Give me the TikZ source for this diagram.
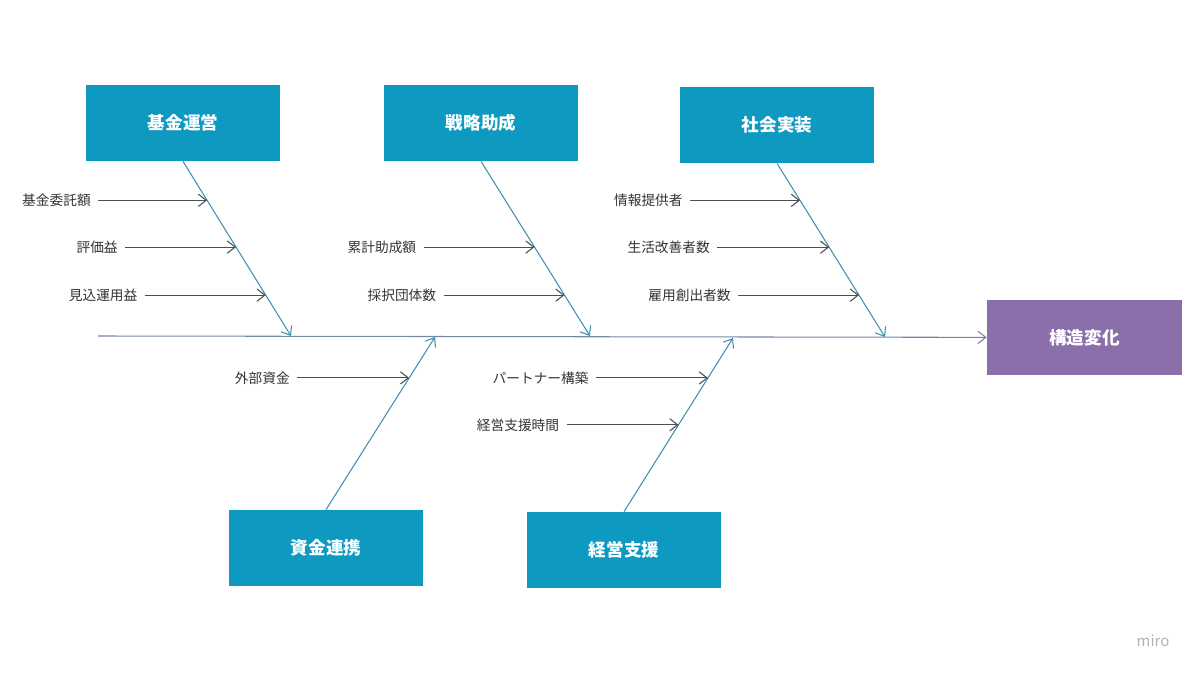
\documentclass[tikz,border=0pt]{standalone}
\usepackage{fontspec}
\setmainfont{Noto Sans CJK JP}
\usetikzlibrary{positioning,arrows,arrows.meta,calc}

\definecolor{boxteal}{HTML}{0E9AC0}
\definecolor{effpurple}{HTML}{8A6FAB}
\definecolor{bonecol}{HTML}{3F8FAE}
\definecolor{spinecol}{HTML}{7486A6}
\definecolor{causecol}{HTML}{46505A}

\begin{document}
\begin{tikzpicture}[x=0.02cm,y=-0.02cm,
  >={Straight Barb[length=4.5pt,width=7pt]},
  box/.style={fill=boxteal, text=white, font=\fontsize{10}{12}\selectfont\bfseries,
    minimum width=3.9cm, minimum height=1.52cm, inner sep=0pt},
  effect/.style={box, fill=effpurple},
  cause/.style={font=\fontsize{7.8}{9}\selectfont, text=black!80, inner sep=4pt},
  bone/.style={->, bonecol, line width=0.6pt},
  spine/.style={->, spinecol, line width=0.6pt},
  link/.style={->, causecol, line width=0.6pt}]

  \useasboundingbox (0,0) rectangle (1200,675);

  % main boxes
  \node[box] (p1) at (183,123) {基金運営};
  \node[box] (p2) at (481,123) {戦略助成};
  \node[box] (p3) at (777,125) {社会実装};
  \node[box] (p4) at (326,548) {資金連携};
  \node[box] (p5) at (624,550) {経営支援};
  \node[effect] (p6) at (1084.5,337.5) {構造変化};

  % spine
  \coordinate (s0) at (98,336);
  \coordinate (s1) at (291,336);
  \coordinate (s2) at (590,336);
  \coordinate (s3) at (885,337);
  \coordinate (s4) at (435,337);
  \coordinate (s5) at (733,338);
  \path[spine] (s0) edge (p6);

  % bones
  \path[bone] (p1.south) edge (s1);
  \path[bone] (p2.south) edge (s2);
  \path[bone] (p3.south) edge (s3);
  \path[bone] (p4.north) edge (s4);
  \path[bone] (p5.north) edge (s5);

  % points on the bones
  \coordinate (c11) at ($(p1.south)!0.223!(s1)$);
  \coordinate (c12) at ($(p1.south)!0.491!(s1)$);
  \coordinate (c13) at ($(p1.south)!0.766!(s1)$);
  \coordinate (c21) at ($(p2.south)!0.491!(s2)$);
  \coordinate (c22) at ($(p2.south)!0.766!(s2)$);
  \coordinate (c31) at ($(p3.south)!0.213!(s3)$);
  \coordinate (c32) at ($(p3.south)!0.483!(s3)$);
  \coordinate (c33) at ($(p3.south)!0.759!(s3)$);
  \coordinate (c41) at ($(p4.north)!0.763!(s4)$);
  \coordinate (c51) at ($(p5.north)!0.770!(s5)$);
  \coordinate (c52) at ($(p5.north)!0.500!(s5)$);

  % causes
  \node[cause] (q11) [left=2.18cm of c11] {基金委託額};
  \node[cause] (q12) [left=2.22cm of c12] {評価益};
  \node[cause] (q13) [left=2.42cm of c13] {見込運用益};
  \node[cause] (q21) [left=2.22cm of c21] {累計助成額};
  \node[cause] (q22) [left=2.42cm of c22] {採択団体数};
  \node[cause] (q31) [left=2.2cm of c31] {情報提供者};
  \node[cause] (q32) [left=2.24cm of c32] {生活改善者数};
  \node[cause] (q33) [left=2.42cm of c33] {雇用創出者数};
  \node[cause] (q41) [left=2.24cm of c41] {外部資金};
  \node[cause] (q51) [left=2.24cm of c51] {パートナー構築};
  \node[cause] (q52) [left=2.24cm of c52] {経営支援時間};

  \path[link] (q11) edge (c11);
  \path[link] (q12) edge (c12);
  \path[link] (q13) edge (c13);
  \path[link] (q21) edge (c21);
  \path[link] (q22) edge (c22);
  \path[link] (q31) edge (c31);
  \path[link] (q32) edge (c32);
  \path[link] (q33) edge (c33);
  \path[link] (q41) edge (c41);
  \path[link] (q51) edge (c51);
  \path[link] (q52) edge (c52);

  \node[font=\fontsize{8.5}{10}\selectfont, text=black!30] (wm) at (1153,641) {miro};

\end{tikzpicture}
\end{document}
